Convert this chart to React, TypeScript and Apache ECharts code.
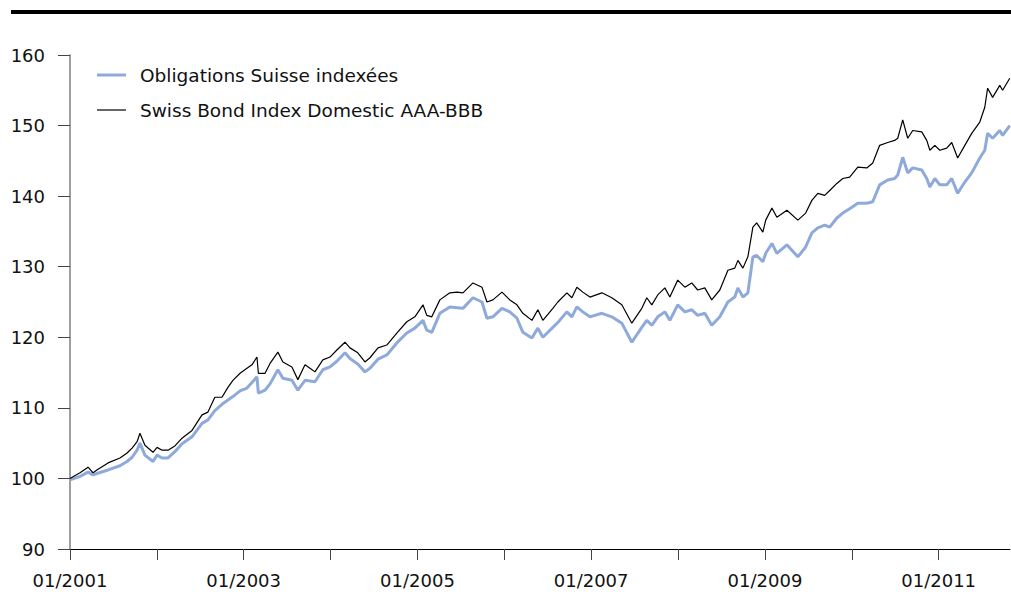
import React, { useEffect, useRef } from "react";
import * as echarts from "echarts";

const dates = [
  "2001-01-01","2001-02-12","2001-03-18","2001-04-08","2001-04-24","2001-06-10","2001-07-30","2001-08-29","2001-09-19","2001-10-10",
  "2001-10-22","2001-11-12","2001-12-16","2002-01-02","2002-01-23","2002-02-17","2002-03-18","2002-04-17","2002-05-29","2002-07-10",
  "2002-08-04","2002-09-02","2002-10-02","2002-10-27","2002-11-17","2002-12-17","2003-01-15","2003-02-05","2003-02-26","2003-03-04",
  "2003-04-01","2003-04-22","2003-05-25","2003-06-15","2003-07-23","2003-08-17","2003-09-16","2003-10-07","2003-10-28","2003-11-30",
  "2003-12-30","2004-01-28","2004-03-02","2004-03-23","2004-04-25","2004-05-25","2004-06-15","2004-07-19","2004-08-25","2004-10-06",
  "2004-11-17","2004-12-21","2005-01-24","2005-02-09","2005-03-02","2005-04-05","2005-05-17","2005-06-16","2005-07-11","2005-08-22",
  "2005-09-29","2005-10-20","2005-11-14","2005-12-22","2006-01-24","2006-02-23","2006-03-20","2006-04-27","2006-05-22","2006-06-12",
  "2006-07-24","2006-08-14","2006-09-21","2006-10-12","2006-11-02","2006-11-27","2006-12-27","2007-02-15","2007-03-29","2007-05-10",
  "2007-06-21","2007-08-02","2007-08-23","2007-09-13","2007-10-08","2007-11-07","2007-11-28","2007-12-31","2008-01-30","2008-02-28",
  "2008-03-24","2008-04-23","2008-05-22","2008-06-25","2008-07-29","2008-08-27","2008-09-09","2008-09-30","2008-10-21","2008-11-11",
  "2008-11-27","2008-12-23","2009-01-04","2009-01-30","2009-02-20","2009-04-03","2009-05-19","2009-06-21","2009-07-17","2009-08-11",
  "2009-09-09","2009-09-30","2009-10-30","2009-11-24","2009-12-23","2010-01-26","2010-03-05","2010-03-30","2010-04-28","2010-06-01",
  "2010-06-30","2010-07-13","2010-08-03","2010-08-24","2010-09-14","2010-10-22","2010-11-12","2010-11-25","2010-12-16","2011-01-06",
  "2011-02-04","2011-02-25","2011-03-22","2011-04-21","2011-05-20","2011-06-23","2011-07-14","2011-07-26","2011-08-16","2011-09-15",
  "2011-09-27","2011-10-27"
];

const sbiValues = [
  100.0,100.8,101.6,100.8,101.2,102.2,102.9,103.6,104.3,105.2,
  106.4,104.7,103.7,104.4,104.0,104.0,104.6,105.7,106.8,109.0,
  109.4,111.5,111.5,112.9,113.9,114.9,115.6,116.1,117.2,114.9,
  114.9,116.3,117.9,116.5,115.8,114.0,116.1,115.6,115.1,116.8,
  117.2,118.2,119.3,118.5,117.8,116.5,117.1,118.5,118.9,120.6,
  122.2,122.9,124.6,123.1,122.9,125.3,126.3,126.4,126.3,127.7,
  127.1,125.0,125.3,126.4,125.3,124.6,123.4,122.4,123.9,122.4,
  124.1,125.0,126.3,125.6,127.1,126.4,125.7,126.3,125.6,124.6,
  122.0,124.1,125.6,124.6,126.0,127.0,125.7,128.1,127.1,127.7,
  126.7,127.0,125.3,126.7,129.5,129.8,130.9,129.8,131.4,135.6,
  136.2,134.9,136.6,138.3,137.0,138.0,136.6,137.6,139.4,140.4,
  140.1,140.8,141.8,142.5,142.7,144.1,144.0,144.7,147.2,147.6,
  147.9,148.2,150.8,148.2,149.3,149.1,147.9,146.5,147.2,146.5,
  146.8,147.6,145.4,147.2,148.9,150.5,152.6,155.3,154.0,155.7,
  155.0,156.7
];

const osiValues = [
  99.8,100.3,100.9,100.5,100.7,101.2,101.8,102.4,103.0,104.0,
  105.0,103.3,102.4,103.3,102.9,102.9,103.8,104.9,105.9,107.8,
  108.3,109.6,110.5,111.1,111.6,112.4,112.8,113.6,114.4,112.1,
  112.5,113.4,115.4,114.2,113.9,112.5,113.9,113.8,113.7,115.4,
  115.8,116.6,117.8,117.0,116.2,115.1,115.6,116.9,117.5,119.2,
  120.6,121.3,122.4,121.0,120.7,123.4,124.3,124.2,124.1,125.6,
  125.0,122.7,122.9,124.1,123.6,122.7,120.7,119.9,121.3,120.0,
  121.4,122.1,123.6,122.9,124.3,123.6,122.9,123.4,122.9,122.0,
  119.3,121.4,122.4,121.7,122.9,123.6,122.4,124.6,123.6,123.9,
  123.1,123.4,121.7,122.9,125.0,125.7,127.0,125.7,126.3,131.4,
  131.6,130.7,131.9,133.3,131.9,133.1,131.4,132.8,134.8,135.5,
  135.9,135.6,136.9,137.6,138.2,139.0,139.0,139.2,141.6,142.3,
  142.5,143.0,145.5,143.3,144.0,143.7,142.5,141.3,142.5,141.6,
  141.6,142.5,140.4,142.0,143.3,145.4,146.5,148.9,148.2,149.3,
  148.6,150.0
];

const seriesNames = ["Obligations Suisse indexées", "Swiss Bond Index Domestic AAA-BBB"];
const seriesColors = ["#8eaadb", "#000000"];
const yMin = 90;
const yMax = 160;
const yStep = 10;
const xMin = "2001-01-01";
const xMax = "2011-10-28";

const FONT = "DejaVu Sans";

export default function App() {
  const ref = useRef<HTMLDivElement>(null);
  useEffect(() => {
    document.body.style.margin = "0";
    const chart = echarts.init(ref.current!, null, { renderer: "svg" });
    const osi = dates.map((d, i) => [d, osiValues[i]]);
    const sbi = dates.map((d, i) => [d, sbiValues[i]]);
    const legendRows = [75, 110];
    const legendWidths = [3, 1.2];
    const legendGraphics: any[] = [];
    seriesNames.forEach((name, i) => {
      legendGraphics.push({
        type: "line",
        shape: { x1: 97, y1: legendRows[i], x2: 126, y2: legendRows[i] },
        style: { stroke: seriesColors[i], lineWidth: legendWidths[i] },
      });
      legendGraphics.push({
        type: "text",
        x: 140,
        y: legendRows[i],
        style: {
          text: name,
          font: `18.5px "${FONT}"`,
          fill: "#111",
          verticalAlign: "middle",
          align: "left",
        },
      });
    });
    chart.setOption({
      animation: false,
      backgroundColor: "#ffffff",
      textStyle: { fontFamily: FONT },
      graphic: [
        { type: "rect", shape: { x: 11, y: 10, width: 1000, height: 4 }, style: { fill: "#000" } },
        ...legendGraphics,
      ],
      grid: { left: 70, right: 1, top: 55, bottom: 46, containLabel: false },
      xAxis: {
        type: "time",
        min: xMin,
        max: xMax,
        minInterval: 365 * 24 * 3600 * 1000,
        maxInterval: 366 * 24 * 3600 * 1000,
        axisLine: { lineStyle: { color: "#000", width: 1 } },
        axisTick: { show: true, length: 11, lineStyle: { color: "#444" } },
        axisLabel: {
          margin: 22,
          fontSize: 18,
          fontFamily: FONT,
          color: "#111",
          hideOverlap: false,
          formatter: (v: number) => {
            const d = new Date(v);
            const y = d.getFullYear();
            return y % 2 === 1 ? "01/" + y : "";
          },
        },
        splitLine: { show: false },
      },
      yAxis: {
        type: "value",
        min: yMin,
        max: yMax,
        interval: yStep,
        axisLine: { show: true, lineStyle: { color: "#7f7f7f", width: 1.5 } },
        axisTick: { show: true, length: 12, lineStyle: { color: "#444" } },
        axisLabel: { margin: 25, fontSize: 18, fontFamily: FONT, color: "#111" },
        splitLine: { show: false },
      },
      series: [
        {
          name: seriesNames[0],
          type: "line",
          data: osi,
          showSymbol: false,
          symbol: "none",
          lineStyle: { color: seriesColors[0], width: 3 },
          itemStyle: { color: seriesColors[0] },
          z: 2,
        },
        {
          name: seriesNames[1],
          type: "line",
          data: sbi,
          showSymbol: false,
          symbol: "none",
          lineStyle: { color: seriesColors[1], width: 1.2 },
          itemStyle: { color: seriesColors[1] },
          z: 3,
        },
      ],
    });
    return () => chart.dispose();
  }, []);
  return <div ref={ref} style={{ width: 1011, height: 595 }} />;
}
